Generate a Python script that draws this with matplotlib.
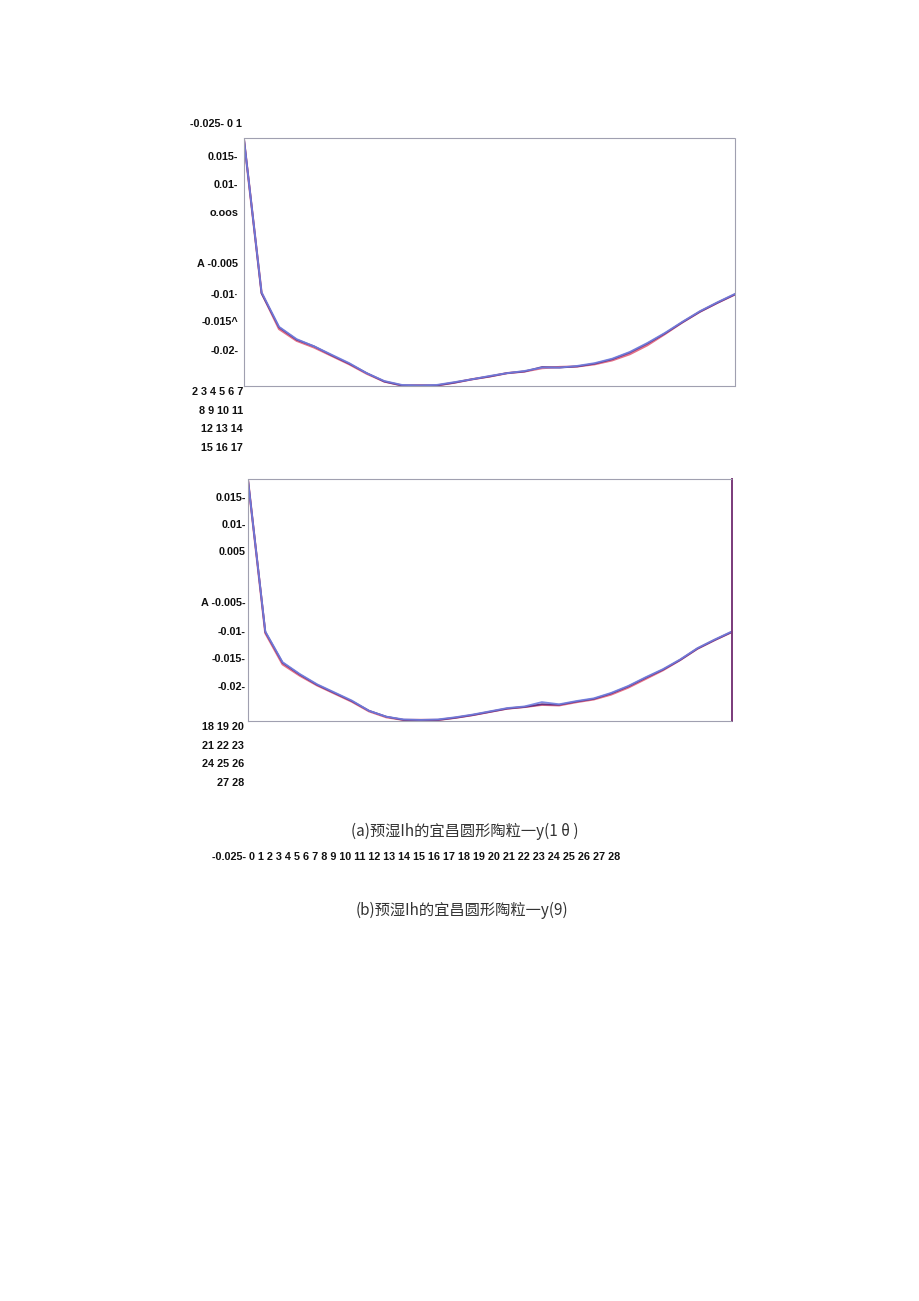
import matplotlib
matplotlib.use('Agg')
import matplotlib.pyplot as plt

# ---- data ----
x = list(range(29))

# chart (a)
a_red = [0.0178, -0.0095, -0.0160, -0.0181, -0.0193, -0.0208, -0.0223, -0.0240, -0.0254, -0.0261,
         -0.0261, -0.0261, -0.0256, -0.0250, -0.0245, -0.0239, -0.0236, -0.0230, -0.0228, -0.0227,
         -0.0223, -0.0216, -0.0205, -0.0189, -0.0169, -0.0148, -0.0129, -0.0113, -0.0098]
a_purple = [0.0180, -0.0096, -0.0157, -0.0179, -0.0191, -0.0207, -0.0222, -0.0239, -0.0254, -0.0261,
            -0.0261, -0.0261, -0.0256, -0.0250, -0.0245, -0.0239, -0.0236, -0.0228, -0.0229, -0.0227,
            -0.0222, -0.0214, -0.0202, -0.0186, -0.0168, -0.0148, -0.0129, -0.0113, -0.0098]
a_blue = [0.0179, -0.0094, -0.0156, -0.0178, -0.0191, -0.0206, -0.0221, -0.0239, -0.0253, -0.0260,
          -0.0261, -0.0260, -0.0255, -0.0250, -0.0244, -0.0239, -0.0235, -0.0229, -0.0229, -0.0226,
          -0.0221, -0.0213, -0.0201, -0.0185, -0.0167, -0.0147, -0.0128, -0.0112, -0.0097]

# chart (b)
b_red = [0.0181, -0.0102, -0.0160, -0.0181, -0.0199, -0.0214, -0.0229, -0.0247, -0.0258, -0.0263,
         -0.0263, -0.0263, -0.0259, -0.0254, -0.0248, -0.0242, -0.0239, -0.0235, -0.0236, -0.0230,
         -0.0225, -0.0216, -0.0203, -0.0187, -0.0171, -0.0152, -0.0131, -0.0115, -0.0100]
b_purple = [0.0182, -0.0100, -0.0157, -0.0179, -0.0198, -0.0213, -0.0228, -0.0246, -0.0257, -0.0263,
            -0.0263, -0.0263, -0.0259, -0.0254, -0.0248, -0.0242, -0.0239, -0.0234, -0.0235, -0.0229,
            -0.0224, -0.0214, -0.0201, -0.0185, -0.0170, -0.0152, -0.0131, -0.0115, -0.0100]
b_blue = [0.0181, -0.0099, -0.0156, -0.0178, -0.0197, -0.0212, -0.0227, -0.0246, -0.0257, -0.0262,
          -0.0263, -0.0262, -0.0258, -0.0253, -0.0247, -0.0241, -0.0238, -0.0230, -0.0234, -0.0228,
          -0.0223, -0.0213, -0.0200, -0.0184, -0.0169, -0.0151, -0.0130, -0.0114, -0.0099]

a_ytick_labels = ['0.015-', '0.01-', 'o.oos', 'A -0.005', '-0.01·', '-0.015^', '-0.02-']
a_ytick_values = [0.015, 0.010, 0.005, -0.0041, -0.0098, -0.0145, -0.0197]
b_ytick_labels = ['0.015-', '0.01-', '0.005', 'A -0.005-', '-0.01-', '-0.015-', '-0.02-']
b_ytick_values = [0.015, 0.010, 0.005, -0.0044, -0.0098, -0.0148, -0.0200]

a_top_label = '-0.025- 0 1'
a_bottom_rows = ['2 3 4 5 6 7', '8 9 10 11', '12 13 14', '15 16 17']
b_bottom_rows = ['18 19 20', '21 22 23', '24 25 26', '27 28']
long_row = '-0.025- 0 1 2 3 4 5 6 7 8 9 10 11 12 13 14 15 16 17 18 19 20 21 22 23 24 25 26 27 28'
caption_a = '(a)预湿Ih的宜昌圆形陶粒一y(1 θ )'
caption_b = '(b)预湿Ih的宜昌圆形陶粒一y(9)'

W, H = 920, 1301
fig = plt.figure(figsize=(W / 100, H / 100), dpi=100)
fig.patch.set_facecolor('white')

lab = dict(fontsize=7.85, fontweight='bold', family=['Liberation Sans', 'DejaVu Sans'], color='#111111')
cap = dict(fontsize=11, family=['Noto Sans CJK SC', 'DejaVu Sans'], color='#333333')


def px(xp, yp):
    return xp / W, 1 - yp / H


def draw_panel(ax, r, p, b, ylim, yvals, ylabels, pad):
    ax.plot(x, r, color='#e0607a', lw=1.6, alpha=0.9)
    ax.plot(x, p, color='#5a2a80', lw=1.3, alpha=0.9)
    ax.plot(x, b, color='#6f7fe0', lw=1.3, alpha=0.9)
    ax.set_xlim(0, 28)
    ax.set_ylim(*ylim)
    ax.set_xticks([])
    ax.set_yticks(yvals)
    ax.set_yticklabels(ylabels, **lab)
    ax.tick_params(axis='y', length=0, pad=pad)
    for s in ax.spines.values():
        s.set_color('#a0a0b0')
        s.set_linewidth(0.8)
        s.set_linestyle((0, (1, 1)))


ax1 = fig.add_axes([244 / W, 1 - 386 / H, 491 / W, 248 / H])
draw_panel(ax1, a_red, a_purple, a_blue, (-0.0262, 0.0182), a_ytick_values, a_ytick_labels, 4)

ax2 = fig.add_axes([248 / W, 1 - 721 / H, 484 / W, 242 / H])
draw_panel(ax2, b_red, b_purple, b_blue, (-0.0265, 0.01833), b_ytick_values, b_ytick_labels, 1.5)
ax2.spines['right'].set_color('#7a3a7a')
ax2.spines['right'].set_linestyle('-')
ax2.spines['right'].set_linewidth(1.4)

# stray tick-label text around the panels
fig.text(*px(242, 124), a_top_label, ha='right', va='center', **lab)
for i, row in enumerate(a_bottom_rows):
    fig.text(*px(243, 392 + i * 18.7), row, ha='right', va='center', **lab)
for i, row in enumerate(b_bottom_rows):
    fig.text(*px(244, 727 + i * 18.7), row, ha='right', va='center', **lab)
fig.text(*px(212, 857), long_row, ha='left', va='center', **lab)

fig.text(*px(465, 831), caption_a, ha='center', va='center', **cap)
fig.text(*px(462, 910), caption_b, ha='center', va='center', **cap)

fig.savefig('out.png', dpi=100, facecolor='white')
